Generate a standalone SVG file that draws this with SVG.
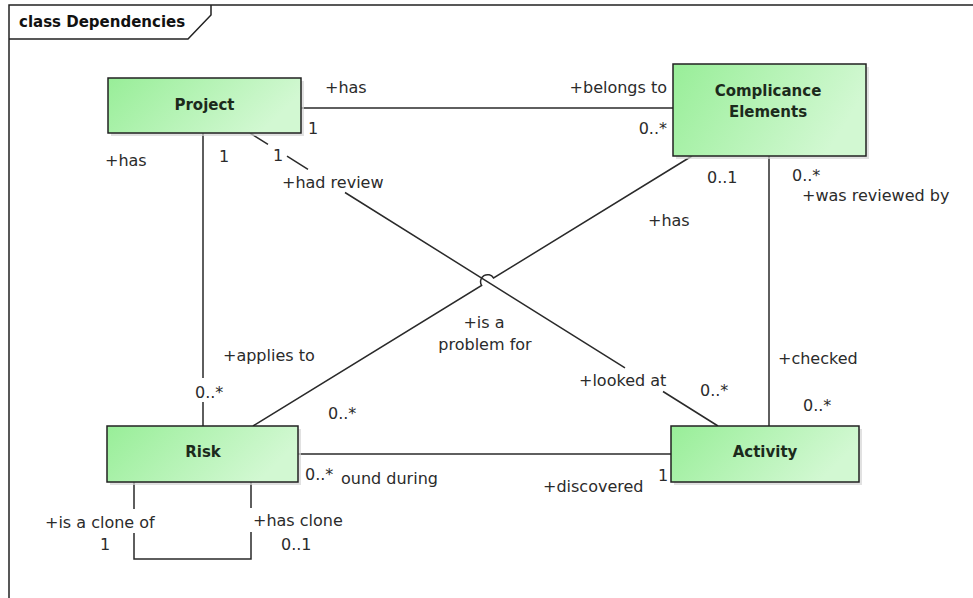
<svg xmlns="http://www.w3.org/2000/svg" width="973" height="598" viewBox="0 0 973 598">
<defs>
<linearGradient id="g" x1="0" y1="0" x2="1" y2="0.3">
<stop offset="0" stop-color="#98ee98"/>
<stop offset="1" stop-color="#d2f8d2"/>
</linearGradient>
<style>
.frame{fill:none;stroke:#222;stroke-width:1.5}
.node{fill:url(#g);stroke:#222;stroke-width:1.5}
.shadow{fill:#d4d4d4;opacity:0.7}
.nt{font-family:"DejaVu Sans",sans-serif;font-weight:bold;font-size:15px;fill:#1c2a1c;text-anchor:middle}
.hdr{font-family:"DejaVu Sans",sans-serif;font-weight:bold;font-size:15px;fill:#111}
.c{fill:none;stroke:#2a2a2a;stroke-width:1.5}
.lb{font-family:"DejaVu Sans",sans-serif;font-size:16px;fill:#2b2b2b}
.e{text-anchor:end}
.m{text-anchor:middle}
</style>
</defs>
<rect width="973" height="598" fill="#fff"/>
<g id="frame">
<path class="frame" d="M9,600 V5 H975"/>
<path class="frame" d="M9,39 H188 L211,15 V5"/>
<text class="hdr" x="19" y="27">class Dependencies</text>
</g>
<g id="connectors">
<path class="c" d="M301,108 H673"/>
<path class="c" d="M203,133 V378 M203,402 V426"/>
<path class="c" d="M250,133 L268,144.3 M287,156.2 L308,169.3 M345,192.5 L625,367.8 M663,391.5 L718,426"/>
<path class="c" d="M253,426 L481.6,285.4 A7,7 0 0 1 493.6,278 L692,156"/>
<path class="c" d="M769,156 V426"/>
<path class="c" d="M298,454 H671"/>
<path class="c" d="M134,482 V509 M134,533 V559 H251 V532 M251,508 V482"/>
</g>
<g id="labels">
<text class="lb" x="325" y="93">+has</text>
<text class="lb e" x="667" y="93">+belongs to</text>
<text class="lb" x="308" y="134">1</text>
<text class="lb e" x="667" y="134">0..*</text>
<text class="lb" x="105" y="166">+has</text>
<text class="lb" x="219" y="162">1</text>
<text class="lb" x="273" y="161">1</text>
<text class="lb" x="282" y="188">+had review</text>
<text class="lb" x="223" y="361">+applies to</text>
<text class="lb" x="195" y="398">0..*</text>
<text class="lb" x="648" y="226">+has</text>
<text class="lb" x="707" y="183">0..1</text>
<text class="lb m" x="484" y="328">+is a</text>
<text class="lb m" x="485" y="350">problem for</text>
<text class="lb" x="328" y="419">0..*</text>
<text class="lb" x="579" y="386">+looked at</text>
<text class="lb" x="700" y="396">0..*</text>
<text class="lb" x="792" y="181">0..*</text>
<text class="lb" x="802" y="201">+was reviewed by</text>
<text class="lb" x="778" y="364">+checked</text>
<text class="lb" x="803" y="411">0..*</text>
<text class="lb" x="305" y="480">0..*</text>
<text class="lb" x="341" y="484">ound during</text>
<text class="lb" x="543" y="492">+discovered</text>
<text class="lb" x="658" y="481">1</text>
<text class="lb" x="45" y="528">+is a clone of</text>
<text class="lb" x="100" y="550">1</text>
<text class="lb" x="253" y="526">+has clone</text>
<text class="lb" x="281" y="550">0..1</text>
</g>
<g id="project">
<rect class="shadow" x="111" y="81" width="193" height="55"/>
<rect class="node" x="108" y="78" width="193" height="55"/>
<text class="nt" x="204.5" y="110">Project</text>
</g>
<g id="compliance">
<rect class="shadow" x="676" y="67" width="193" height="92"/>
<rect class="node" x="673" y="64" width="193" height="92"/>
<text class="nt" x="768" y="96">Complicance</text>
<text class="nt" x="768" y="117">Elements</text>
</g>
<g id="risk">
<rect class="shadow" x="110" y="429" width="191" height="56"/>
<rect class="node" x="107" y="426" width="191" height="56"/>
<text class="nt" x="203" y="457">Risk</text>
</g>
<g id="activity">
<rect class="shadow" x="674" y="429" width="188" height="56"/>
<rect class="node" x="671" y="426" width="188" height="56"/>
<text class="nt" x="765" y="457">Activity</text>
</g>
</svg>
